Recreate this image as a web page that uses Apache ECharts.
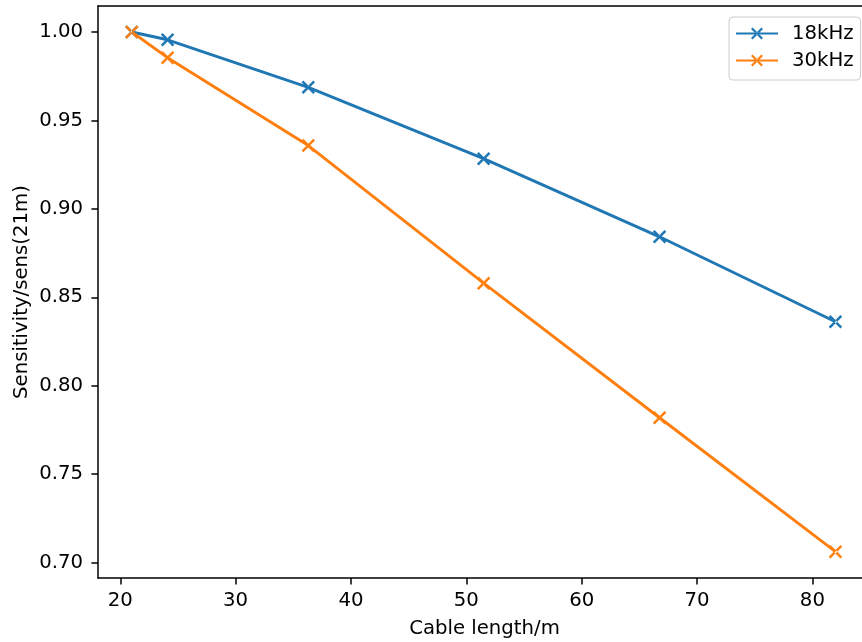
<!DOCTYPE html>
<html>
<head>
<meta charset="utf-8">
<script src="https://cdn.jsdelivr.net/npm/echarts@6/dist/echarts.min.js"></script>
<style>html,body{margin:0;padding:0;background:#fff}#c{width:862px;height:642px}</style>
</head>
<body>
<div id="c"></div>
<script>
const cableLength = [21, 24.1, 36.3, 51.5, 66.75, 82];
const sens18k = [1.000, 0.9956, 0.9687, 0.9284, 0.8842, 0.8362];
const sens30k = [1.000, 0.9855, 0.9358, 0.858, 0.7819, 0.7062];
const xTicks = [20, 30, 40, 50, 60, 70, 80];
const yTicks = [0.70, 0.75, 0.80, 0.85, 0.90, 0.95, 1.00];
const seriesNames = ['18kHz', '30kHz'];
const colors = ['#1f77b4', '#ff7f0e'];

const X_PATH = 'path://M0,1.3L1.3,0L10,8.7L8.7,10Z M10,1.3L8.7,0L0,8.7L1.3,10Z';
const FONT = 'DejaVu Sans';
const FS = 19.7;

function pairs(xs, ys) { return xs.map((x, i) => [x, ys[i]]); }
function mkSeries(name, ys, color) {
  return {
    name: name, type: 'line', data: pairs(cableLength, ys),
    xAxisIndex: 0, yAxisIndex: 0,
    symbol: X_PATH, symbolSize: 13.5, symbolKeepAspect: true,
    lineStyle: { color: color, width: 2.9 },
    itemStyle: { color: color },
    emphasis: { disabled: true }, animation: false
  };
}

const axisLineStyle = { color: '#000', width: 1.5 };
const chart = echarts.init(document.getElementById('c'), null, { renderer: 'canvas' });
chart.setOption({
  backgroundColor: '#fff',
  animation: false,
  textStyle: { fontFamily: FONT },
  grid: { left: 98, top: 6, right: 0, bottom: 64, show: false, containLabel: false, outerBoundsMode: 'none' },
  xAxis: [{
    type: 'value', min: 18.07, max: 84.3, position: 'bottom',
    name: 'Cable length/m', nameLocation: 'middle', nameGap: 41, nameMoveOverlap: false,
    nameTextStyle: { fontFamily: FONT, fontSize: FS, color: '#000', padding: [0, 0, 0, 9] },
    axisLine: { show: true, onZero: false, lineStyle: axisLineStyle },
    axisTick: { show: true, inside: false, length: 6.6, lineStyle: axisLineStyle, customValues: xTicks },
    axisLabel: { fontFamily: FONT, fontSize: FS, color: '#000', margin: 13, customValues: xTicks, formatter: v => String(v) },
    splitLine: { show: false }
  }, {
    type: 'value', min: 18.07, max: 84.3, position: 'top',
    axisLine: { show: true, onZero: false, lineStyle: axisLineStyle },
    axisTick: { show: false }, axisLabel: { show: false }, splitLine: { show: false }
  }],
  yAxis: {
    type: 'value', min: 0.6913, max: 1.0147,
    name: 'Sensitivity/sens(21m)', nameLocation: 'middle', nameGap: 66, nameRotate: 90, nameMoveOverlap: false,
    nameTextStyle: { fontFamily: FONT, fontSize: FS, color: '#000' },
    axisLine: { show: true, onZero: false, lineStyle: axisLineStyle },
    axisTick: { show: true, inside: false, length: 6.6, lineStyle: axisLineStyle, customValues: yTicks },
    axisLabel: { fontFamily: FONT, fontSize: FS, color: '#000', margin: 15, customValues: yTicks, formatter: v => v.toFixed(2) },
    splitLine: { show: false }
  },
  legend: {
    show: true, orient: 'vertical', left: 729, top: 17,
    data: seriesNames,
    itemWidth: 42, itemHeight: 15, itemGap: 6,
    padding: [6, 7, 9, 6],
    backgroundColor: 'rgba(255,255,255,0.8)', borderColor: '#cccccc', borderWidth: 1, borderRadius: 4,
    textStyle: { fontFamily: FONT, fontSize: FS, color: '#000', lineHeight: 21, padding: [0, 0, 0, 9] }
  },
  series: [mkSeries(seriesNames[0], sens18k, colors[0]), mkSeries(seriesNames[1], sens30k, colors[1])]
});
</script>
</body>
</html>
